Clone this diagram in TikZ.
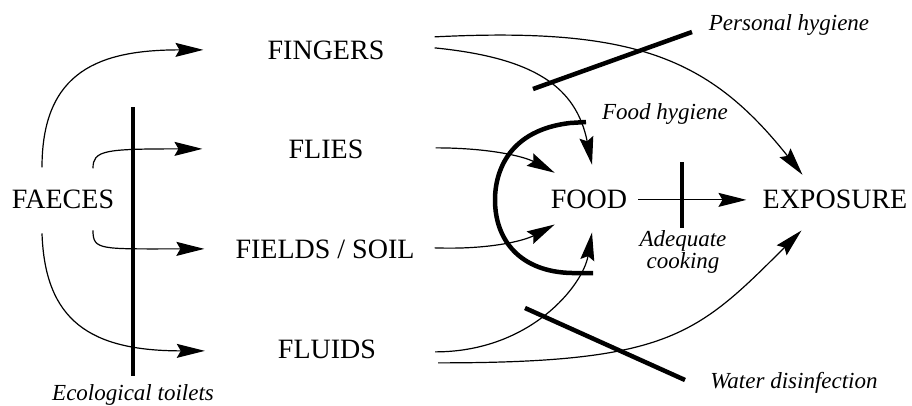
\documentclass[tikz,border=0pt]{standalone}
\usepackage{fontspec}
\setmainfont{Liberation Serif}
\usetikzlibrary{arrows.meta,calc}
\begin{document}
\begin{tikzpicture}[x=1pt,y=-1pt,
  lab/.style={font=\fontsize{28}{30}\selectfont, inner sep=0pt, anchor=base},
  note/.style={font=\fontsize{23}{20}\selectfont\itshape, inner sep=0pt, anchor=base, align=center},
  conn/.style={line width=1.2pt, -{Stealth[length=28pt,width=14pt,inset=4pt]}},
  bar/.style={line width=4.5pt}]
\useasboundingbox (0,0) rectangle (912,405);

% main nodes
\node[lab] (faeces) at (63,208) {FAECES};
\node[lab] (fingers) at (326,59) {FINGERS};
\node[lab] (flies) at (326,158) {FLIES};
\node[lab] (fields) at (325,258) {FIELDS / SOIL};
\node[lab] (fluids) at (327,358) {FLUIDS};
\node[lab] (food) at (589,208) {FOOD};
\node[lab] (exposure) at (835,208) {EXPOSURE};

% barrier labels
\node[note] (toilets) at (133,400) {Ecological toilets};
\node[note] (personal) at (789,30) {Personal hygiene};
\node[note] (foodhyg) at (665,119) {Food hygiene};
\node[note] (cooking) at (683,268) {Adequate\\cooking};
\node[note] (water) at (794,388) {Water disinfection};

% faeces -> F's
\draw[conn] ($(faeces.north)+(-21,-22)$) .. controls +(0,-97) and ($(fingers.west)+(-167,0)$) .. ($(fingers.west)+(-64,0)$);
\draw[conn] ($(faeces.north)+(30,-21)$) .. controls +(0,-18) and ($(flies.west)+(-184,0)$) .. ($(flies.west)+(-86,0)$);
\draw[conn] ($(faeces.south)+(30,22)$) .. controls +(0,20) and ($(fields.west)+(-135,0)$) .. ($(fields.west)+(-31,0)$);
\draw[conn] ($(faeces.south)+(-21,25)$) .. controls +(3,87) and ($(fluids.west)+(-188,2)$) .. ($(fluids.west)+(-73,2)$);

% F's -> food / exposure
\draw[conn] ($(fingers.east)+(50,-13)$) .. controls +(200,-10) and +(-93,-117) .. ($(exposure.north west)+(40,-14.5)$);
\draw[conn] ($(fingers.east)+(50,-2)$) .. controls +(100,10) and +(-16,-78) .. ($(food.north)+(3,-24.5)$);
\draw[conn] ($(flies.east)+(72,-1)$) .. controls +(55,0) and +(-30,-16) .. ($(food.north west)+(4,-16.5)$);
\draw[conn] ($(fields.east)+(20,-1)$) .. controls +(55,2) and +(-30,16) .. ($(food.south west)+(4,16)$);
\draw[conn] ($(fluids.east)+(59,3)$) .. controls +(95,0) and +(-9,53) .. ($(food.south)+(3,24)$);
\draw[conn] ($(fluids.east)+(62,14)$) .. controls +(230,0) and +(-105,105) .. ($(exposure.south west)+(39,22)$);
\draw[conn] ($(food.east)+(11,1)$) -- ($(exposure.west)+(-16,1)$);

% barriers
\draw[bar] (133,107) -- (133,376);
\draw[bar] (533,89) -- (692,32);
\draw[bar] (525,308) -- (685,380);
\draw[bar] (682,162) -- (682,228);
\draw[bar] (586,122) -- (570,123) .. controls (510,130) and (495,170) .. (495,200)
  .. controls (495,240) and (520,272) .. (572,273) -- (593,273);
\end{tikzpicture}
\end{document}
